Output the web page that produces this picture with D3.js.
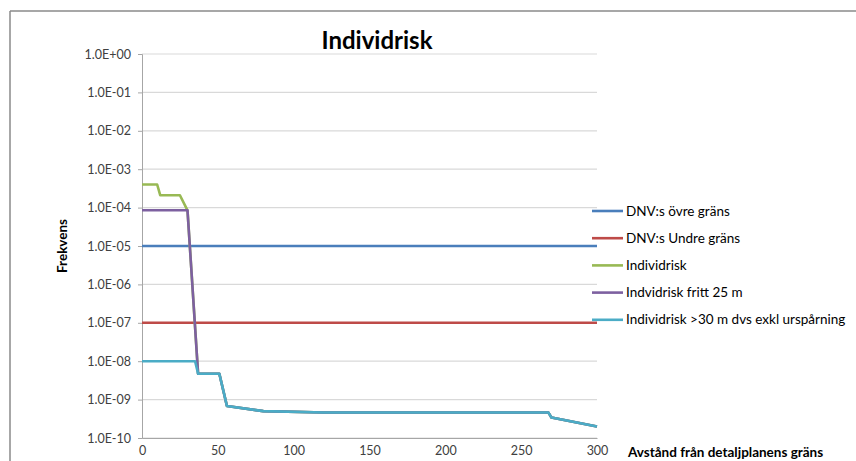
<!DOCTYPE html>
<html><head><meta charset="utf-8">
<script src="https://cdn.jsdelivr.net/npm/d3@7"></script>
<style>body{margin:0;background:#fff;}svg{display:block;}</style>
</head><body>
<svg id="c" width="856" height="461"></svg>
<script>
const title = "Individrisk";
const yTitle = "Frekvens";
const xTitle = "Avstånd från detaljplanens gräns";
const xTicks = [0, 50, 100, 150, 200, 250, 300];
const yTicks = [1e0, 1e-1, 1e-2, 1e-3, 1e-4, 1e-5, 1e-6, 1e-7, 1e-8, 1e-9, 1e-10];
const yTickLabels = ["1.0E+00","1.0E-01","1.0E-02","1.0E-03","1.0E-04","1.0E-05","1.0E-06","1.0E-07","1.0E-08","1.0E-09","1.0E-10"];

const seriesNames = ["DNV:s övre gräns","DNV:s Undre gräns","Individrisk","Indvidrisk fritt 25 m","Individrisk >30 m dvs exkl urspårning"];
const seriesColors = ["#4a7ebb","#be4b48","#98b954","#7d60a0","#4bacc6"];

const dnvOvre = [[0,1e-5],[300,1e-5]];
const dnvUndre = [[0,1e-7],[300,1e-7]];
const individrisk = [[0,4e-4],[10,4e-4],[12,2.1e-4],[25,2.1e-4],[30,8.5e-5],[37,4.7e-9],[51,4.7e-9],[56,6.8e-10],[80,5.0e-10],[120,4.6e-10],[268,4.6e-10],[270,3.4e-10],[300,2.0e-10]];
const fritt25 = [[0,8.5e-5],[30,8.5e-5],[37,4.7e-9],[51,4.7e-9],[56,6.8e-10],[80,5.0e-10],[120,4.6e-10],[268,4.6e-10],[270,3.4e-10],[300,2.0e-10]];
const exklUrsparning = [[0,1e-8],[35,1e-8],[37,4.7e-9],[51,4.7e-9],[56,6.8e-10],[80,5.0e-10],[120,4.6e-10],[268,4.6e-10],[270,3.4e-10],[300,2.0e-10]];
const allSeries = [dnvOvre, dnvUndre, individrisk, fritt25, exklUrsparning];

const svg = d3.select("#c");
const font = "Lato, 'Open Sans', sans-serif";
const x = d3.scaleLinear().domain([0,300]).range([142,597]);
const y = d3.scaleLog().domain([1e-10,1]).range([438,54]);

// frame
svg.append("line").attr("x1",10).attr("x2",856).attr("y1",11).attr("y2",11).attr("stroke","#8a8a8a").attr("stroke-width",1.5);
svg.append("line").attr("x1",10).attr("x2",10).attr("y1",11).attr("y2",461).attr("stroke","#8a8a8a").attr("stroke-width",1.5);

// gridlines
svg.append("g").selectAll("line").data(yTicks).join("line")
  .attr("x1",x(0)).attr("x2",x(300)).attr("y1",d=>y(d)).attr("y2",d=>y(d))
  .attr("stroke","#d9d9d9").attr("stroke-width",1.2);

// y axis
const yAxis = d3.axisLeft(y).tickValues(yTicks).tickSize(4).tickPadding(7)
  .tickFormat((d,i)=>yTickLabels[i]);
const gy = svg.append("g").attr("transform",`translate(${x(0)},0)`).call(yAxis);
gy.select(".domain").attr("stroke","#a6a6a6");
gy.selectAll(".tick line").attr("stroke","#a6a6a6");
gy.selectAll("text").attr("font-family",font).attr("font-size",12.5).attr("fill","#404040");

// x axis
const xAxis = d3.axisBottom(x).tickValues(xTicks).tickSize(0).tickPadding(8);
const gx = svg.append("g").attr("transform",`translate(0,${y(1e-10)})`).call(xAxis);
gx.select(".domain").attr("stroke","#a6a6a6");
gx.selectAll("text").attr("font-family",font).attr("font-size",12.5).attr("fill","#404040");

// lines
const line = d3.line().x(d=>x(d[0])).y(d=>y(d[1]));
allSeries.forEach((s,i)=>{
  svg.append("path").datum(s).attr("d",line).attr("fill","none")
    .attr("stroke",seriesColors[i]).attr("stroke-width",2.6).attr("stroke-linejoin","round");
});

// title
svg.append("text").attr("x",377).attr("y",49).attr("text-anchor","middle")
  .attr("font-family",font).attr("font-weight","bold").attr("font-size",24).attr("fill","#000").text(title);

// y title
svg.append("text").attr("transform","translate(67,246) rotate(-90)").attr("text-anchor","middle")
  .attr("font-family",font).attr("font-weight","bold").attr("font-size",13.5).attr("fill","#000").text(yTitle);

// x title
svg.append("text").attr("x",628).attr("y",457)
  .attr("font-family",font).attr("font-weight","bold").attr("font-size",13.5).attr("fill","#000").text(xTitle);

// legend
const lg = svg.append("g");
seriesNames.forEach((n,i)=>{
  const yy = 211 + i*27.2;
  lg.append("line").attr("x1",592).attr("x2",623).attr("y1",yy).attr("y2",yy)
    .attr("stroke",seriesColors[i]).attr("stroke-width",2.6);
  lg.append("text").attr("x",626).attr("y",yy+4.5).attr("font-family",font).attr("font-size",13.5)
    .attr("fill","#000").text(n);
});
</script>
</body></html>
